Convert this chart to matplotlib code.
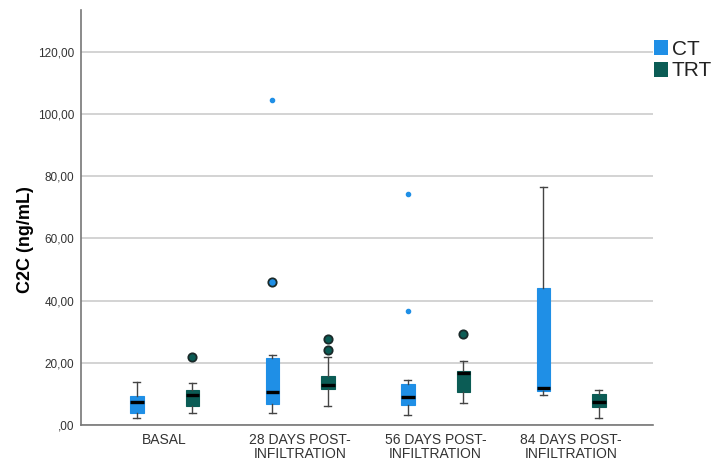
import numpy as np
import matplotlib.pyplot as plt

plt.rcParams['font.family'] = ['Liberation Sans', 'DejaVu Sans']

# Datos (C2C en ng/mL)
grupos = ['BASAL', '28 DAYS POST-\nINFILTRATION', '56 DAYS POST-\nINFILTRATION', '84 DAYS POST-\nINFILTRATION']
series = ['CT', 'TRT']

# [whislo, q1, med, q3, whishi]
ct_stats = [
    [2.3, 4.0, 7.5, 9.4, 13.8],
    [3.8, 6.9, 10.5, 21.5, 22.6],
    [3.1, 6.4, 8.9, 13.2, 14.5],
    [9.7, 11.0, 12.0, 44.2, 76.4],
]
trt_stats = [
    [4.0, 6.1, 9.7, 11.3, 13.4],
    [6.1, 11.5, 12.9, 15.9, 22.0],
    [7.1, 10.5, 16.6, 17.4, 20.7],
    [2.2, 5.9, 7.5, 10.0, 11.3],
]

# atípicos (círculos) y extremos (asteriscos)
ct_atipicos = [[], [46.0], [], []]
ct_extremos = [[], [104.6], [74.3, 36.5], []]
trt_atipicos = [[22.0], [27.8, 24.1], [29.2], []]
trt_extremos = [[], [], [], []]

colores = {'CT': '#1f8fe6', 'TRT': '#0b5c55'}


def armar_stats(lista, atip):
    salida = []
    for s, f in zip(lista, atip):
        salida.append({'whislo': s[0], 'q1': s[1], 'med': s[2], 'q3': s[3],
                       'whishi': s[4], 'fliers': f})
    return salida


fig = plt.figure(figsize=(7.24, 4.67), dpi=100)
ax = fig.add_axes([0.112, 0.09, 0.79, 0.889])

x = np.arange(len(grupos))
desp = 0.205
ancho = 0.1

for nombre, stats, atip, extr, signo in [('CT', ct_stats, ct_atipicos, ct_extremos, -1),
                                           ('TRT', trt_stats, trt_atipicos, trt_extremos, 1)]:
    col = colores[nombre]
    ax.bxp(armar_stats(stats, atip), positions=x + signo * desp, widths=ancho,
           patch_artist=True, showfliers=True,
           boxprops=dict(facecolor=col, edgecolor=col, linewidth=0.8),
           medianprops=dict(color='black', linewidth=2.4),
           whiskerprops=dict(color='#444444', linewidth=1.0),
           capprops=dict(color='#444444', linewidth=1.0),
           capwidths=ancho * 0.5,
           flierprops=dict(marker='o', markerfacecolor=col, markeredgecolor='#1a2a2a',
                           markersize=6, markeredgewidth=1.3),
           zorder=3)
    for i, vals in enumerate(extr):
        if vals:
            ax.plot([x[i] + signo * desp] * len(vals), vals, linestyle='none',
                    marker='o', markersize=3, color=col, zorder=4)
    ax.bar([0], [0], color=col, label=nombre)

ax.set_xlim(-0.616, 3.605)
ax.set_ylim(0, 133.5)
ax.set_yticks([0, 20, 40, 60, 80, 100, 120])
ax.set_yticklabels([',00', '20,00', '40,00', '60,00', '80,00', '100,00', '120,00'],
                   fontsize=8.5, color='#333333')
ax.set_xticks(x)
ax.set_xticklabels(grupos, fontsize=10, color='#333333', linespacing=0.95)
ax.tick_params(axis='y', length=0, pad=5)
ax.tick_params(axis='x', length=0, pad=6)
ax.yaxis.grid(True, color='#cccccc', linewidth=1.2)
ax.set_axisbelow(True)
for lado in ['top', 'right']:
    ax.spines[lado].set_visible(False)
for lado in ['left', 'bottom']:
    ax.spines[lado].set_color('#777777')
    ax.spines[lado].set_linewidth(1.2)

ax.set_ylabel('C2C (ng/mL)', fontsize=13, fontweight='bold')
ax.yaxis.set_label_coords(-0.082, 0.446)

fig.legend(loc='upper left', bbox_to_anchor=(654 / 724, 1 - 40 / 467), frameon=False,
           fontsize=15, handlelength=0.65, handleheight=0.75, handletextpad=0.2,
           labelspacing=0.12, borderaxespad=0, borderpad=0, labelcolor='#222222')

fig.savefig('out.png', dpi=100)
